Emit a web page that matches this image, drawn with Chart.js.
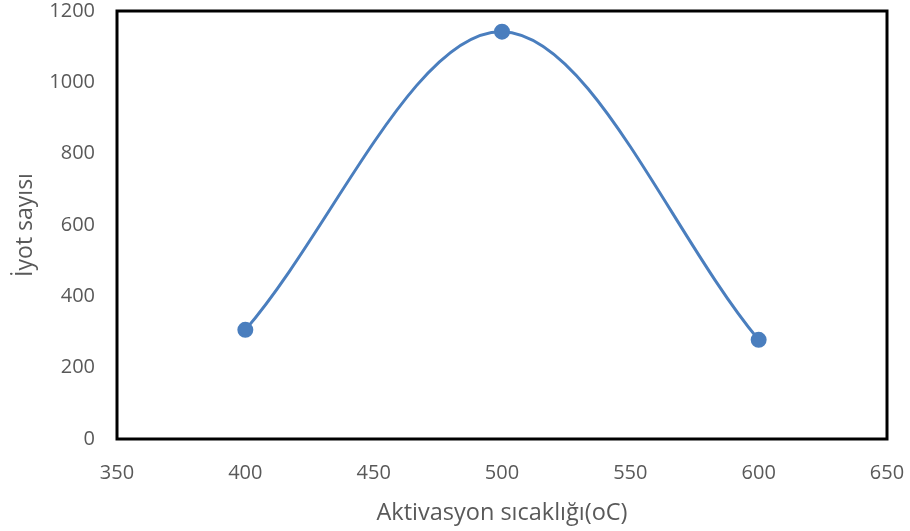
<!DOCTYPE html>
<html>
<head>
<meta charset="utf-8">
<script src="https://cdn.jsdelivr.net/npm/chart.js@4/dist/chart.umd.min.js"></script>
<style>
  html, body { margin: 0; padding: 0; background: #fff; }
  #wrap { width: 910px; height: 531px; }
</style>
</head>
<body>
<div id="wrap"><canvas id="chart"></canvas></div>
<script>
// data
const temperatures = [400, 500, 600]
const iodineNumbers = [306, 1142, 278]
const xTicks = [350, 400, 450, 500, 550, 600, 650]
const yTicks = [0, 200, 400, 600, 800, 1000, 1200]

const textColor = '#595959'
const fontFamily = "'Open Sans', 'Noto Sans', sans-serif"

// Excel style frame around the plot area
const frame = {
  id: 'frame',
  afterDatasetsDraw (chart) {
    const { ctx, chartArea } = chart
    ctx.save()
    ctx.strokeStyle = '#000'
    ctx.lineWidth = 3
    ctx.strokeRect(chartArea.left, chartArea.top,
      chartArea.right - chartArea.left, chartArea.bottom - chartArea.top)
    ctx.restore()
  }
}

const ctx = document.getElementById('chart').getContext('2d')
const chart = new Chart(ctx, {
  type: 'scatter',
  data: {
    datasets: [
      {
        data: temperatures.map((t, i) => ({ x: t, y: iodineNumbers[i] })),
        showLine: true,
        borderColor: '#4A7EBE',
        backgroundColor: '#4A7EBE',
        borderWidth: 3,
        pointRadius: 6.5,
        pointHoverRadius: 6.5,
        tension: 0.34
      }
    ]
  },
  options: {
    responsive: true,
    maintainAspectRatio: false,
    animation: false,
    layout: { padding: { top: 11, right: 23, left: 0, bottom: 0 } },
    plugins: {
      legend: { display: false },
      tooltip: { enabled: false }
    },
    scales: {
      x: {
        type: 'linear',
        min: 350,
        max: 650,
        afterBuildTicks: scale => { scale.ticks = xTicks.map(v => ({ value: v })) },
        afterFit: scale => {
          scale.height = 92
          scale.paddingLeft = 0
          scale.paddingRight = 0
        },
        grid: { display: false, drawTicks: false },
        border: { display: false },
        ticks: {
          color: textColor,
          font: { family: fontFamily, size: 20 },
          padding: 22,
          callback: v => String(v)
        },
        title: {
          display: true,
          text: 'Aktivasyon sıcaklığı(oC)',
          color: textColor,
          font: { family: fontFamily, size: 23.5 },
          padding: { top: 0, bottom: 4 }
        }
      },
      y: {
        min: 0,
        max: 1200,
        afterBuildTicks: scale => { scale.ticks = yTicks.map(v => ({ value: v })) },
        afterFit: scale => {
          scale.width = 117
          scale.paddingTop = 0
          scale.paddingBottom = 0
        },
        grid: { display: false, drawTicks: false },
        border: { display: false },
        ticks: {
          color: textColor,
          font: { family: fontFamily, size: 20 },
          padding: 22,
          callback: v => String(v)
        },
        title: {
          display: true,
          text: 'İyot sayısı',
          color: textColor,
          font: { family: fontFamily, size: 23 },
          padding: { top: 12, bottom: 0 }
        }
      }
    }
  },
  plugins: [frame]
})
</script>
</body>
</html>
